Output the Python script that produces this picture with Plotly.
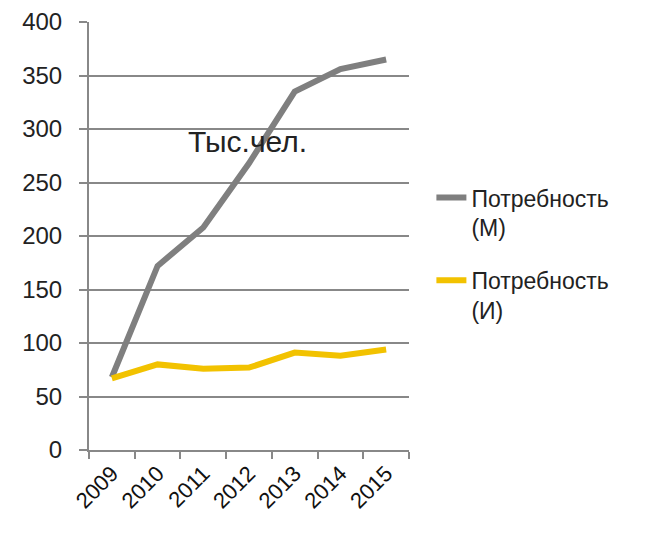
import plotly.graph_objects as go

years = ["2009", "2010", "2011", "2012", "2013", "2014", "2015"]
need_m = [68, 172, 208, 268, 335, 356, 365]
need_i = [67, 80, 76, 77, 91, 88, 94]
name_m = "Потребность<br>(М)"
name_i = "Потребность<br>(И)"
y_ticks = [0, 50, 100, 150, 200, 250, 300, 350, 400]

fig = go.Figure()
fig.add_trace(go.Scatter(x=years, y=need_m, mode="lines", name=name_m,
                         legendgroup="m",
                         line=dict(color="#7f7f7f", width=6)))
fig.add_trace(go.Scatter(x=years, y=need_i, mode="lines", name=name_i,
                         legendgroup="i",
                         line=dict(color="#f2c200", width=6)))

fig.update_layout(
    width=645, height=534,
    margin=dict(l=81, r=244, t=14, b=92, autoexpand=False),
    paper_bgcolor="white", plot_bgcolor="white",
    font=dict(family="Liberation Sans, Arial, sans-serif", color="#222222"),
    showlegend=True,
    legend=dict(x=1.07, y=0.64, xanchor="left", yanchor="top",
                font=dict(size=23, color="#222222"),
                tracegroupgap=20, valign="top",
                bgcolor="rgba(0,0,0,0)"),
    annotations=[dict(text="Тыс.чел.", xref="paper", yref="paper",
                      x=0.495, y=0.72, xanchor="center", yanchor="middle",
                      showarrow=False,
                      font=dict(size=30, color="#222222"))],
)
fig.update_xaxes(type="category", range=[-0.5, 6.5], tickson="boundaries",
                 ticks="outside", automargin=False,
                 ticklen=7, tickwidth=2, tickcolor="#888888",
                 showline=True, linecolor="#888888", linewidth=2,
                 showgrid=False, tickangle=-45,
                 tickfont=dict(size=22, color="#111111"))
fig.update_yaxes(range=[0, 400], tickvals=y_ticks, ticks="outside",
                 automargin=False, ticklabelstandoff=12,
                 ticklen=8, tickwidth=2, tickcolor="#888888",
                 showline=True, linecolor="#888888", linewidth=2,
                 showgrid=True, gridcolor="#888888", gridwidth=2,
                 zeroline=False,
                 tickfont=dict(size=24, color="#222222"))

fig.write_html("out.html")
